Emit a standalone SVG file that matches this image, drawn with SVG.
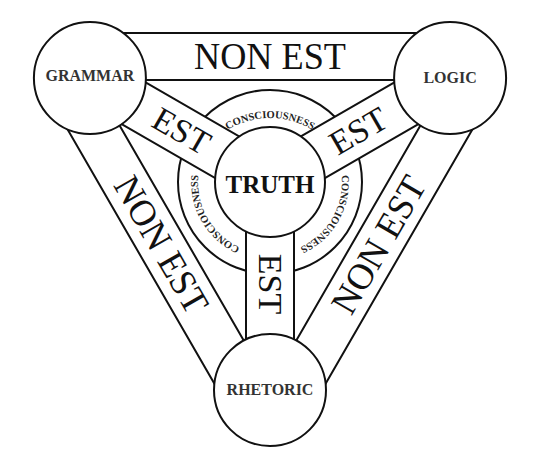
<svg xmlns="http://www.w3.org/2000/svg" width="536" height="470" viewBox="0 0 536 470">
<style>
.band{fill:#fff;stroke:#111;stroke-width:2}
.node{fill:#fff;stroke:#111;stroke-width:2}
.ring{fill:none;stroke:#111;stroke-width:2}
.big{font-family:"Liberation Serif",serif;fill:#111;text-anchor:middle}
.lbl{font-family:"Liberation Serif",serif;font-weight:bold;font-size:16px;fill:#333;text-anchor:middle}
.con{font-family:"Liberation Serif",serif;font-weight:bold;font-size:10.5px;fill:#222;text-anchor:middle}
</style>
<defs>
<path id="arcTop" d="M198.99,159 A82,82 0 0 1 341.01,159"/>
<path id="arcRight" d="M332.35,146 A72,72 0 0 1 270,254"/>
<path id="arcLeft" d="M270,254 A72,72 0 0 1 207.65,146"/>
</defs>
<rect width="536" height="470" fill="#fff"/>
<g id="connectors">
<circle class="ring" cx="270" cy="182" r="92"/>
<rect class="band" x="90" y="33" width="360" height="47"/>
<rect class="band" x="90" y="33" width="360" height="47" transform="rotate(-120 270 182)"/>
<rect class="band" x="90" y="33" width="360" height="47" transform="rotate(120 270 182)"/>
<rect class="band" x="246" y="182" width="48" height="208"/>
<rect class="band" x="246" y="182" width="48" height="208" transform="rotate(120 270 182)"/>
<rect class="band" x="246" y="182" width="48" height="208" transform="rotate(-120 270 182)"/>
<text class="big" font-size="37" textLength="152" lengthAdjust="spacingAndGlyphs" transform="translate(270,56.5)" x="0" y="12.3">NON EST</text>
<text class="big" font-size="37" textLength="152" lengthAdjust="spacingAndGlyphs" transform="translate(161.3,244.75) rotate(60)" x="0" y="12.3">NON EST</text>
<text class="big" font-size="37" textLength="152" lengthAdjust="spacingAndGlyphs" transform="translate(378.7,244.75) rotate(-60)" x="0" y="12.3">NON EST</text>
<text class="big" font-size="34" transform="translate(270,284) rotate(90)" x="0" y="11.3">EST</text>
<text class="big" font-size="34" transform="translate(181.7,131) rotate(30)" x="0" y="11.3">EST</text>
<text class="big" font-size="34" transform="translate(358.3,131) rotate(-30)" x="0" y="11.3">EST</text>
<text class="con"><textPath href="#arcTop" startOffset="50%">CONSCIOUSNESS</textPath></text>
<text class="con"><textPath href="#arcRight" startOffset="50%">CONSCIOUSNESS</textPath></text>
<text class="con"><textPath href="#arcLeft" startOffset="50%">CONSCIOUSNESS</textPath></text>
</g>
<g id="truth">
<circle class="node" cx="270" cy="182" r="55"/>
<text class="big" font-size="25" font-weight="bold" x="270" y="193">TRUTH</text>
</g>
<g id="grammar">
<circle class="node" cx="89.9" cy="78" r="56"/>
<text class="lbl" x="89.9" y="81">GRAMMAR</text>
</g>
<g id="logic">
<circle class="node" cx="450.1" cy="78" r="56"/>
<text class="lbl" x="450.1" y="83">LOGIC</text>
</g>
<g id="rhetoric">
<circle class="node" cx="270" cy="390" r="56"/>
<text class="lbl" x="270" y="395">RHETORIC</text>
</g>
</svg>
